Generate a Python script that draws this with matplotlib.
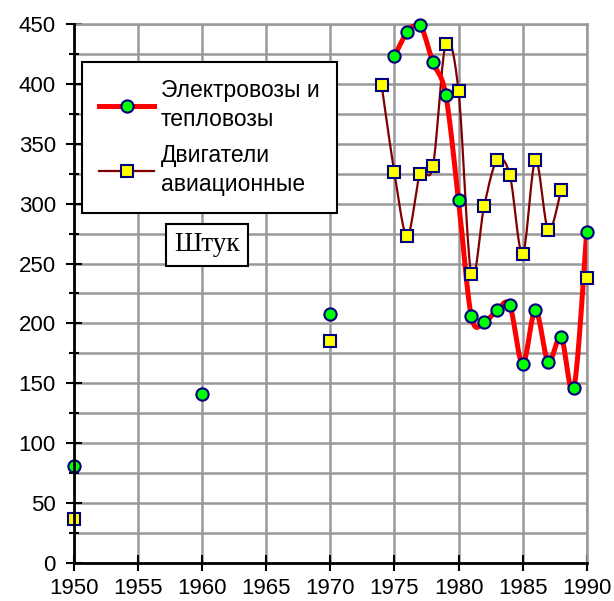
import numpy as np
import matplotlib
matplotlib.use("Agg")
import matplotlib.pyplot as plt
from matplotlib.lines import Line2D

plt.rcParams['font.family'] = ['Liberation Sans', 'DejaVu Sans']

years_loco = [1950, 1960, 1970, 1975, 1976, 1977, 1978, 1979, 1980, 1981,
              1982, 1983, 1984, 1985, 1986, 1987, 1988, 1989, 1990]
loco = [81, 141, 208, 423, 443, 449, 418, 391, 303, 206,
        201, 211, 215, 166, 211, 168, 189, 146, 276]

years_eng = [1950, 1970, 1974, 1975, 1976, 1977, 1978, 1979, 1980, 1981,
             1982, 1983, 1984, 1985, 1986, 1987, 1988, 1990]
eng = [37, 185, 399, 326, 273, 325, 331, 433, 394, 241,
       298, 336, 324, 258, 336, 278, 311, 238]

label_loco = 'Электровозы и\nтепловозы'
label_eng = 'Двигатели\nавиационные'


def runs(xs, ys):
    # split into runs of consecutive years (blank cells break the line)
    out, cur = [], [(xs[0], ys[0])]
    for x, y in zip(xs[1:], ys[1:]):
        if x - cur[-1][0] == 1:
            cur.append((x, y))
        else:
            out.append(cur)
            cur = [(x, y)]
    out.append(cur)
    return [r for r in out if len(r) > 1]


def smooth(run, n=20):
    # Excel-style smoothed line (Catmull-Rom through the points)
    p = np.array(run, dtype=float)
    p = np.vstack([p[0], p, p[-1]])
    pts = []
    t = np.linspace(0, 1, n)[:, None]
    for i in range(1, len(p) - 2):
        p0, p1, p2, p3 = p[i - 1], p[i], p[i + 1], p[i + 2]
        c1 = p1 + (p2 - p0) / 6
        c2 = p2 - (p3 - p1) / 6
        seg = ((1 - t) ** 3) * p1 + 3 * ((1 - t) ** 2) * t * c1 + 3 * (1 - t) * t ** 2 * c2 + t ** 3 * p2
        pts.append(seg)
    s = np.vstack(pts)
    return s[:, 0], s[:, 1]


fig = plt.figure(figsize=(6.14, 6.01), dpi=100)
ax = fig.add_axes([0.1205, 0.0632, 0.835, 0.897])

for r in runs(years_eng, eng):
    sx, sy = smooth(r)
    ax.plot(sx, sy, color='#800000', lw=1.6, zorder=3)
for r in runs(years_loco, loco):
    sx, sy = smooth(r)
    ax.plot(sx, sy, color='#ff0000', lw=3.6, zorder=4)

ax.plot(years_eng, eng, ls='none', marker='s', ms=8.6, mfc='#ffff00',
        mec='#000080', mew=1.5, zorder=5, clip_on=False)
ax.plot(years_loco, loco, ls='none', marker='o', ms=8.8, mfc='#00ff00',
        mec='#000080', mew=1.5, zorder=6, clip_on=False)

ax.set_xlim(1950, 1990)
ax.set_ylim(0, 450)
ax.set_xticks(np.arange(1950, 1991, 5))
ax.set_yticks(np.arange(0, 451, 50))
ax.set_yticks(np.arange(25, 451, 50), minor=True)
ax.grid(True, which='both', color='#999999', lw=1.8, zorder=0)
ax.set_axisbelow(True)
ax.tick_params(axis='both', which='major', direction='inout', length=12,
               width=1.5, labelsize=16, color='black')
ax.tick_params(axis='both', which='minor', direction='inout', length=7,
               width=1.5, color='black')
ax.tick_params(axis='x', pad=5)
ax.tick_params(axis='y', pad=7)
for s in ['top', 'right']:
    ax.spines[s].set_color('#999999')
    ax.spines[s].set_linewidth(1.8)
for s in ['left', 'bottom']:
    ax.spines[s].set_color('black')
    ax.spines[s].set_linewidth(2.0)
    ax.spines[s].set_zorder(7)

handles = [
    Line2D([], [], color='#ff0000', lw=3.6, marker='o', ms=8.8,
           mfc='#00ff00', mec='#000080', mew=1.5),
    Line2D([], [], color='#800000', lw=1.6, marker='s', ms=8.6,
           mfc='#ffff00', mec='#000080', mew=1.5),
]
leg = ax.legend(handles, [label_loco, label_eng], loc='upper left',
                bbox_to_anchor=(0.0156, 0.9295), borderaxespad=0,
                fontsize=16.5, frameon=True,
                fancybox=False, edgecolor='black', framealpha=1,
                handlelength=2.4, labelspacing=0.6, borderpad=0.75,
                handletextpad=0.3)
for t in leg.get_texts():
    t.set_linespacing(1.3)
leg.get_frame().set_linewidth(1.5)
leg.set_zorder(10)

ax.text(0.2587, 0.590, 'Штук', transform=ax.transAxes, fontsize=19.5,
        family='Liberation Serif', ha='center', va='center', zorder=10,
        bbox=dict(boxstyle='square,pad=0.3', fc='white', ec='black', lw=1.5))

fig.savefig('out.png', dpi=100)
